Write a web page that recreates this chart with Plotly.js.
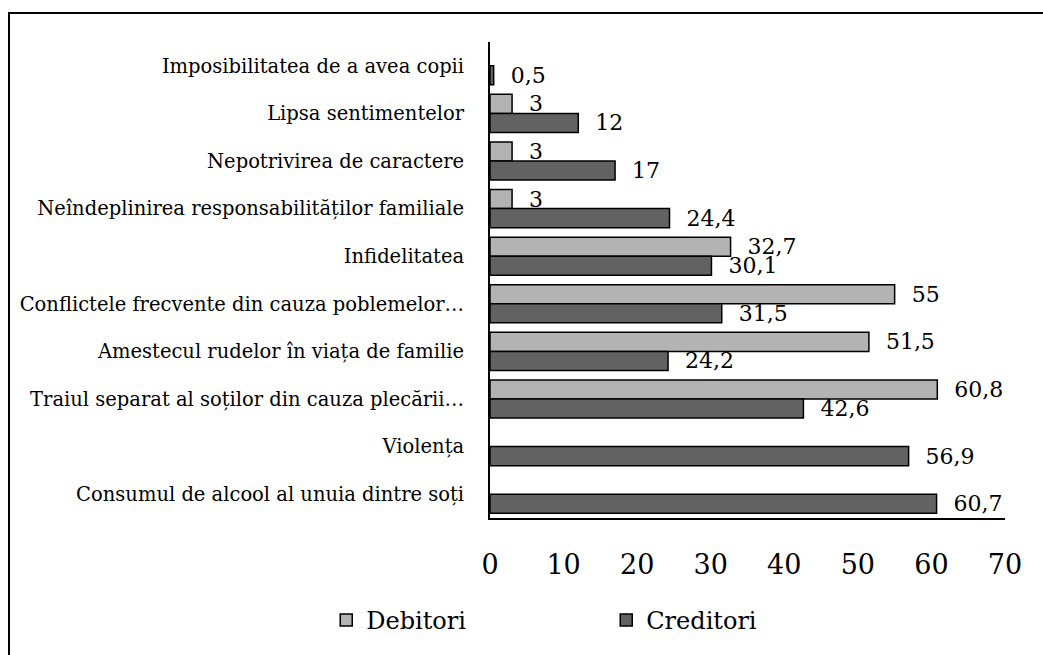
<!DOCTYPE html>
<html>
<head>
<meta charset="utf-8">
<script src="https://cdn.plot.ly/plotly-3.0.1.min.js"></script>
<style>
    body { margin: 0; background: #fff; }
    #grafico { width: 1043px; height: 655px; }
    #marco { position: absolute; left: 8px; top: 12px; width: 1100px; height: 700px;
             border-left: 2px solid #000; border-top: 2px solid #000; pointer-events: none; }
</style>
</head>
<body>
<div id="grafico"></div>
<div id="marco"></div>
<script>
const categorias = [
    "Imposibilitatea de a avea copii",
    "Lipsa sentimentelor",
    "Nepotrivirea de caractere",
    "Neîndeplinirea responsabilităților familiale",
    "Infidelitatea",
    "Conflictele frecvente din cauza poblemelor…",
    "Amestecul rudelor în viața de familie",
    "Traiul separat al soților din cauza plecării…",
    "Violența",
    "Consumul de alcool al unuia dintre soți"
];
const debitori = [null, 3, 3, 3, 32.7, 55, 51.5, 60.8, null, null];
const creditori = [0.5, 12, 17, 24.4, 30.1, 31.5, 24.2, 42.6, 56.9, 60.7];
const ticksX = [0, 10, 20, 30, 40, 50, 60, 70];

// etiqueta con coma decimal y un poco de aire antes
function etiqueta(v) {
    if (v === null) return "";
    return "\u00a0\u00a0" + String(v).replace(".", ",");
}

const fuente = "DejaVu Serif, serif";

const trazaDeb = {
    type: "bar",
    orientation: "h",
    name: "Debitori",
    y: categorias,
    x: debitori,
    text: debitori.map(etiqueta),
    textposition: "outside",
    constraintext: "none",
    cliponaxis: false,
    textfont: { family: fuente, size: 22, color: "#000" },
    marker: { color: "#b3b3b3", line: { color: "#000", width: 1.5 } },
    hoverinfo: "x+y"
};

const trazaCred = {
    type: "bar",
    orientation: "h",
    name: "Creditori",
    y: categorias,
    x: creditori,
    text: creditori.map(etiqueta),
    textposition: "outside",
    constraintext: "none",
    cliponaxis: false,
    textfont: { family: fuente, size: 22, color: "#000" },
    marker: { color: "#626262", line: { color: "#000", width: 1.5 } },
    hoverinfo: "x+y"
};

Plotly.newPlot("grafico", [trazaDeb, trazaCred], {
    width: 1043,
    height: 655,
    margin: { l: 490, r: 38, t: 42, b: 135 },
    paper_bgcolor: "#fff",
    plot_bgcolor: "#fff",
    font: { family: fuente, color: "#000" },
    barmode: "group",
    bargap: 0.2,
    bargroupgap: 0,
    showlegend: true,
    legend: {
        orientation: "h",
        x: -0.318,
        xanchor: "left",
        y: -0.215,
        yanchor: "middle",
        font: { family: fuente, size: 24, color: "#000" },
        entrywidth: 235,
        entrywidthmode: "pixels",
        traceorder: "normal"
    },
    xaxis: {
        range: [0, 70],
        tickvals: ticksX,
        ticktext: ticksX.map(String),
        showgrid: false,
        zeroline: false,
        showline: true,
        linecolor: "#000",
        linewidth: 1.5,
        ticks: "",
        ticklabelstandoff: 22,
        tickfont: { family: fuente, size: 27, color: "#000" }
    },
    yaxis: {
        type: "category",
        autorange: "reversed",
        showgrid: false,
        zeroline: false,
        showline: true,
        linecolor: "#000",
        linewidth: 2,
        ticks: "",
        ticklabelstandoff: 20,
        tickfont: { family: fuente, size: 19.5, color: "#000" }
    }
}, { displayModeBar: false, staticPlot: true });
</script>
</body>
</html>
